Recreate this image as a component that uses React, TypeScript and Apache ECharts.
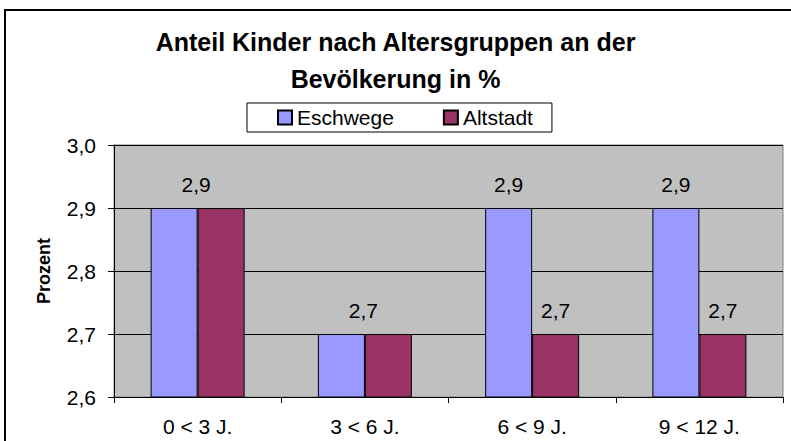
import React, { useEffect, useRef } from "react";
import * as echarts from "echarts";

const categories = ["0 < 3 J.", "3 < 6 J.", "6 < 9 J.", "9 < 12 J."];
const eschwege = [2.9, 2.7, 2.9, 2.9];
const altstadt = [2.9, 2.7, 2.7, 2.7];
const yTicks = { min: 2.6, max: 3.0, interval: 0.1 };
const titleText = "Anteil Kinder nach Altersgruppen an der\nBevölkerung in %";
const seriesNames = ["Eschwege", "Altstadt"];

const FONT = "'Liberation Sans', Arial, sans-serif";
const fmt = (v: number) => v.toFixed(1).replace(".", ",");

export default function App() {
  const ref = useRef<HTMLDivElement>(null);
  useEffect(() => {
    if (!ref.current) return;
    const chart = echarts.init(ref.current, undefined, { renderer: "svg" });
    const labelBase = {
      position: "top",
      distance: 13,
      color: "#000",
      fontFamily: FONT,
      fontSize: 21,
      formatter: (p: any) => fmt(p.value),
    };
    const eData = eschwege.map((v, i) => ({
      value: v,
      label: { show: v !== altstadt[i] },
    }));
    const aData = altstadt.map((v, i) => ({
      value: v,
      label: { show: true, offset: v === eschwege[i] ? [-25, 0] : [0, 0] },
    }));
    chart.setOption({
      animation: false,
      backgroundColor: "#fff",
      title: {
        text: titleText,
        left: "center",
        top: 23,
        padding: 0,
        textStyle: {
          fontFamily: FONT,
          fontSize: 25,
          fontWeight: "bold",
          color: "#000",
          lineHeight: 37,
        },
      },
      legend: {
        left: 247,
        top: 103,
        data: seriesNames,
        itemWidth: 14,
        itemHeight: 14,
        itemGap: 49,
        icon: "rect",
        borderColor: "#000",
        borderWidth: 1,
        padding: [4, 19, 4, 30],
        textStyle: { fontFamily: FONT, fontSize: 21, color: "#000", lineHeight: 21 },
      },
      graphic: [
        {
          type: "rect",
          shape: { x: 5, y: 10, width: 820, height: 460 },
          style: { fill: "none", stroke: "#000", lineWidth: 2 },
          z: 100,
          silent: true,
        },
      ],
      grid: {
        left: 114,
        right: 8,
        top: 145,
        bottom: 44,
        show: true,
        backgroundColor: "#C0C0C0",
        borderColor: "#808080",
        borderWidth: 1,
      },
      xAxis: {
        type: "category",
        data: categories,
        axisLine: { show: true, lineStyle: { color: "#000", width: 1 } },
        axisTick: { show: true, length: 6, lineStyle: { color: "#000" } },
        axisLabel: { fontFamily: FONT, fontSize: 21, color: "#000", margin: 19 },
        splitLine: { show: false },
      },
      yAxis: {
        type: "value",
        min: yTicks.min,
        max: yTicks.max,
        interval: yTicks.interval,
        name: "Prozent",
        nameLocation: "middle",
        nameGap: 61,
        nameTextStyle: { fontFamily: FONT, fontSize: 18, fontWeight: "bold", color: "#000" },
        axisLine: { show: true, lineStyle: { color: "#000", width: 1 } },
        axisTick: { show: true, length: 6, lineStyle: { color: "#000" } },
        axisLabel: {
          fontFamily: FONT,
          fontSize: 21,
          color: "#000",
          margin: 18,
          formatter: (v: number) => fmt(v),
        },
        splitLine: { show: true, lineStyle: { color: "#000", width: 1 } },
      },
      series: [
        {
          name: seriesNames[0],
          type: "bar",
          data: eData,
          barWidth: 47,
          barGap: "0%",
          itemStyle: { color: "#9999FF", borderColor: "#000", borderWidth: 1 },
          label: labelBase,
        },
        {
          name: seriesNames[1],
          type: "bar",
          data: aData,
          barWidth: 47,
          barGap: "0%",
          itemStyle: { color: "#993366", borderColor: "#000", borderWidth: 1 },
          label: labelBase,
        },
      ],
    });
    return () => chart.dispose();
  }, []);
  return (
    <div
      ref={ref}
      style={{ position: "absolute", left: 0, top: 0, width: 791, height: 441 }}
    />
  );
}
